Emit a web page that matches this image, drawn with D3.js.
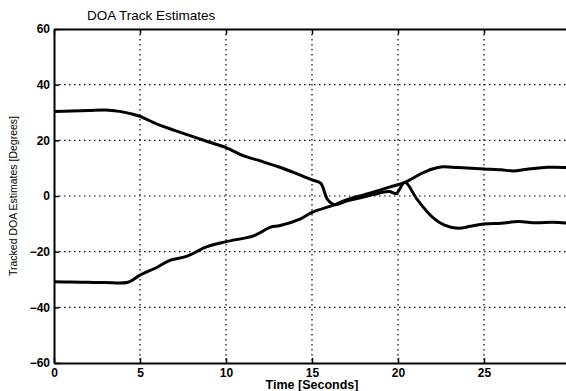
<!DOCTYPE html>
<html><head><meta charset="utf-8">
<script src="https://cdn.jsdelivr.net/npm/d3@7"></script>
<style>body{margin:0;background:#fff}svg{display:block}text{font-family:"Liberation Sans",Arial,sans-serif;fill:#000}</style>
</head><body>
<script>
const title = "DOA Track Estimates";
const xLabel = "Time [Seconds]";
const yLabel = "Tracked DOA Estimates [Degrees]";
const xTicks = [0, 5, 10, 15, 20, 25];
const yTicks = [-60, -40, -20, 0, 20, 40, 60];

const trackATime = [0,1,2,3,3.8,4.5,5,6,7,8,9,10,11,12,13,14,14.6,15,15.5,15.9,16.3,17,18,19,19.5,19.9,20.4,21.1,22,22.7,23.5,24.2,25,26,27,28,29,29.8];
const trackAVal  = [30.4,30.5,30.7,30.9,30.4,29.5,28.6,25.8,23.6,21.5,19.4,17.4,14.5,12.6,10.6,8.3,6.8,5.8,4.6,-1.2,-3.1,-1.8,-0.4,1.2,1.6,0.9,4.9,-1.1,-7.6,-10.5,-11.6,-10.9,-10.1,-9.8,-9.2,-9.6,-9.4,-9.7];

const trackBTime = [0,1,2,3,4.3,5,6,6.7,7.7,8.9,10,11.6,12.6,13.1,14.3,15,16.3,17,18,19,19.5,20.4,21.3,22,22.6,23.5,25,26,26.7,27.5,28.7,29.8];
const trackBVal  = [-30.8,-30.9,-31,-31.1,-31,-28.4,-25.6,-23.2,-21.7,-18.2,-16.4,-14.3,-11.2,-10.7,-8.3,-5.9,-3.2,-1.4,0.4,2.2,3.2,4.9,7.9,9.7,10.5,10.2,9.7,9.4,9.0,9.6,10.3,10.2];

const W = 566, H = 391;
const m = {left: 54, top: 29, right: 570, bottom: 363};
const svg = d3.select("body").append("svg").attr("width", W).attr("height", H);

const x = d3.scaleLinear().domain([0, 30]).range([m.left, m.right]);
const y = d3.scaleLinear().domain([-60, 60]).range([m.bottom, m.top]);

// grid
const grid = svg.append("g").attr("stroke", "#000").attr("stroke-width", 1.2).attr("stroke-dasharray", "1.5,3.5");
grid.selectAll(".gx").data(xTicks.filter(d => d > 0)).join("line")
  .attr("x1", d => x(d)).attr("x2", d => x(d)).attr("y1", m.top).attr("y2", m.bottom);
grid.selectAll(".gy").data(yTicks.filter(d => d > -60 && d < 60)).join("line")
  .attr("y1", d => y(d)).attr("y2", d => y(d)).attr("x1", m.left).attr("x2", m.right);

// axes
const xAxis = d3.axisBottom(x).tickValues(xTicks).tickSizeInner(-5).tickSizeOuter(0).tickPadding(5);
const gx = svg.append("g").attr("transform", `translate(0,${m.bottom})`).call(xAxis);
const xTop = d3.axisTop(x).tickValues(xTicks).tickSizeInner(-5).tickSizeOuter(0).tickFormat("");
svg.append("g").attr("transform", `translate(0,${m.top})`).call(xTop);
const yAxis = d3.axisLeft(y).tickValues(yTicks).tickSizeInner(-5).tickSizeOuter(0).tickPadding(4);
const gy = svg.append("g").attr("transform", `translate(${m.left},0)`).call(yAxis);
svg.selectAll(".domain").attr("stroke", "#000").attr("stroke-width", 2);
svg.selectAll(".tick line").attr("stroke", "#000").attr("stroke-width", 1.5);
svg.selectAll(".tick text").attr("font-size", 12).attr("font-weight", "bold")
  .attr("font-family", '"Liberation Sans",Arial,sans-serif');

// lines
const lineB = d3.line().x(d => x(d[0])).y(d => y(d[1])).curve(d3.curveCatmullRom.alpha(0.5));
svg.append("path").datum(trackATime.map((t, i) => [t, trackAVal[i]]))
  .attr("d", lineB).attr("fill", "none").attr("stroke", "#000").attr("stroke-width", 3).attr("stroke-linejoin", "round");
svg.append("path").datum(trackBTime.map((t, i) => [t, trackBVal[i]]))
  .attr("d", lineB).attr("fill", "none").attr("stroke", "#000").attr("stroke-width", 3).attr("stroke-linejoin", "round");

// labels
svg.append("text").attr("x", 87).attr("y", 20).attr("font-size", 13.5).text(title);
svg.append("text").attr("x", (m.left + m.right) / 2).attr("y", 389).attr("text-anchor", "middle")
  .attr("font-size", 12.5).attr("font-weight", "bold").text(xLabel);
svg.append("text").attr("transform", `translate(17,196) rotate(-90)`).attr("text-anchor", "middle")
  .attr("font-size", 10.5).text(yLabel);
</script>
</body></html>
